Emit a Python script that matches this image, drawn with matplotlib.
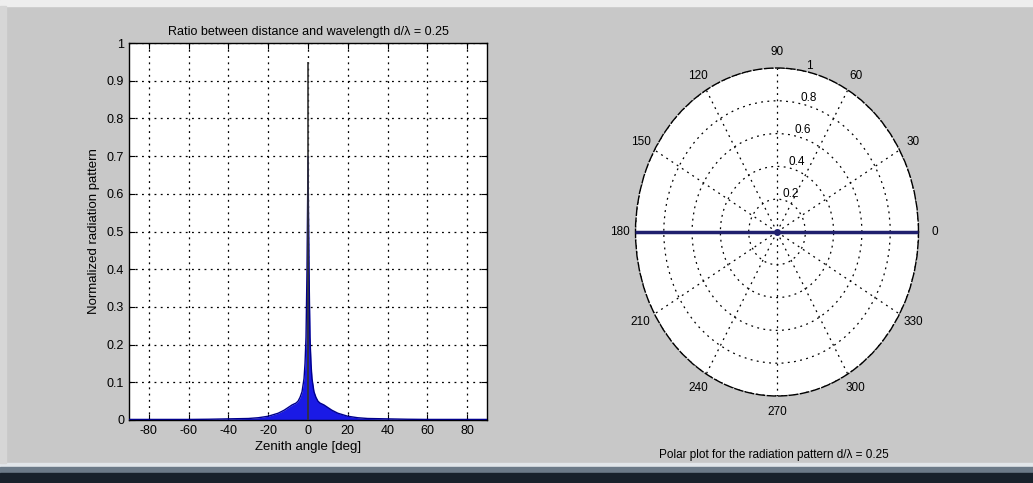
import matplotlib
matplotlib.use('Agg')
import matplotlib.pyplot as plt
from matplotlib.patches import Rectangle
import numpy as np

plt.rcParams['font.family'] = ['Liberation Sans', 'DejaVu Sans']
plt.rcParams['axes.unicode_minus'] = False

# envelope of the radiation pattern (zenith angle in deg, normalized value)
zenith_deg = [-90, -80, -70, -60, -50, -40, -30, -25, -20, -15, -12, -10,
              -8, -6, -5, -4, -3, -2, -1.5, -1, -0.5, 0, 0.5, 1, 1.5, 2,
              3, 4, 5, 6, 8, 10, 12, 15, 20, 25, 30, 40, 50, 60, 70, 80, 90]
pattern = [0.0015, 0.0015, 0.0015, 0.0015, 0.002, 0.003, 0.004, 0.006,
           0.010, 0.018, 0.026, 0.033, 0.040, 0.045, 0.050, 0.060, 0.075,
           0.11, 0.15, 0.22, 0.40, 0.70, 0.40, 0.22, 0.15, 0.11, 0.075,
           0.060, 0.050, 0.045, 0.040, 0.033, 0.026, 0.018, 0.010, 0.006,
           0.004, 0.003, 0.002, 0.0015, 0.0015, 0.0015, 0.0015]
peak_angle = 0
peak_value = 0.95

x_ticks = [-80, -60, -40, -20, 0, 20, 40, 60, 80]
y_ticks = [0, 0.1, 0.2, 0.3, 0.4, 0.5, 0.6, 0.7, 0.8, 0.9, 1]
y_labels = ['0', '0.1', '0.2', '0.3', '0.4', '0.5', '0.6', '0.7', '0.8',
            '0.9', '1']

# polar pattern (deg, r)
polar_theta_deg = [180, 180, 0, 0]
polar_r = [1.0, 0.0, 0.0, 1.0]
theta_ticks = [0, 30, 60, 90, 120, 150, 180, 210, 240, 270, 300, 330]
r_ticks = [0.2, 0.4, 0.6, 0.8, 1.0]
r_labels = ['0.2', '0.4', '0.6', '0.8', '1']

bg = '#c8c8c8'
fig = plt.figure(figsize=(10.33, 4.83), dpi=100, facecolor=bg)

# window decorations
fig.patches.append(Rectangle((0, 1 - 6 / 483), 1, 6 / 483, transform=fig.transFigure,
                             color='#eeeeee', zorder=0))
fig.patches.append(Rectangle((0, 16 / 483), 1, 4 / 483, transform=fig.transFigure,
                             color='#e2e6ea', zorder=0))
fig.patches.append(Rectangle((0, 10 / 483), 1, 6 / 483, transform=fig.transFigure,
                             color='#6c7a88', zorder=0))
fig.patches.append(Rectangle((0, 0), 1, 10 / 483, transform=fig.transFigure,
                             color='#18212b', zorder=0))
fig.patches.append(Rectangle((0, 20 / 483), 6 / 1033, 1 - 26 / 483,
                             transform=fig.transFigure, color='#d6d6d6', zorder=0))

###############
# LEFT AXES
###############
ax = fig.add_axes([129 / 1033, 1 - 420 / 483, 358 / 1033, 377 / 483])
ax.set_facecolor('white')
ax.fill_between(zenith_deg, 0, pattern, color='#1a1ae6', lw=0, zorder=2)
ax.plot(zenith_deg, pattern, color='#00008b', lw=1.0, zorder=3)
ax.vlines(peak_angle, 0, peak_value, color='#333333', lw=1.2, zorder=3)

ax.set_xlim(-90, 90)
ax.set_ylim(0, 1)
ax.set_xticks(x_ticks)
ax.set_yticks(y_ticks)
ax.set_yticklabels(y_labels)
ax.grid(True, color='black', ls=(0, (1.5, 3.5)), lw=0.9)
ax.tick_params(direction='in', length=4, labelsize=9, top=True, right=True)
for s in ax.spines.values():
    s.set_linewidth(1.0)
ax.set_title('Ratio between distance and wavelength d/\u03bb = 0.25',
             fontsize=9, pad=6)
ax.set_xlabel('Zenith angle [deg]', fontsize=9.5, labelpad=3)
ax.set_ylabel('Normalized radiation pattern', fontsize=9.5, labelpad=5)

###############
# POLAR AXES
###############
pax = fig.add_axes([(777 - 141.5) / 1033, 1 - 396 / 483, 283 / 1033, 328 / 483],
                   projection='polar')
pax.set_aspect('auto')
pax.set_facecolor('white')
pax.plot(np.deg2rad(polar_theta_deg), polar_r, color='#20206e', lw=2.5, zorder=3)
pax.plot([0], [0], marker='o', ms=4, color='#20206e', zorder=4)
pax.set_ylim(0, 1)
pax.set_thetagrids(theta_ticks, [str(t) for t in theta_ticks], fontsize=8.5)
pax.set_rgrids(r_ticks, r_labels, angle=78, fontsize=8.5)
pax.grid(True, color='black', ls=(0, (1.5, 3.5)), lw=0.9)
pax.tick_params(axis='x', pad=1)
pax.spines['polar'].set_linestyle((0, (6, 2)))
pax.spines['polar'].set_linewidth(1.0)

fig.text(774 / 1033, 1 - 455 / 483,
         'Polar plot for the radiation pattern d/\u03bb = 0.25',
         ha='center', va='center', fontsize=8.5)

fig.savefig('out.png', dpi=100, facecolor=bg)
